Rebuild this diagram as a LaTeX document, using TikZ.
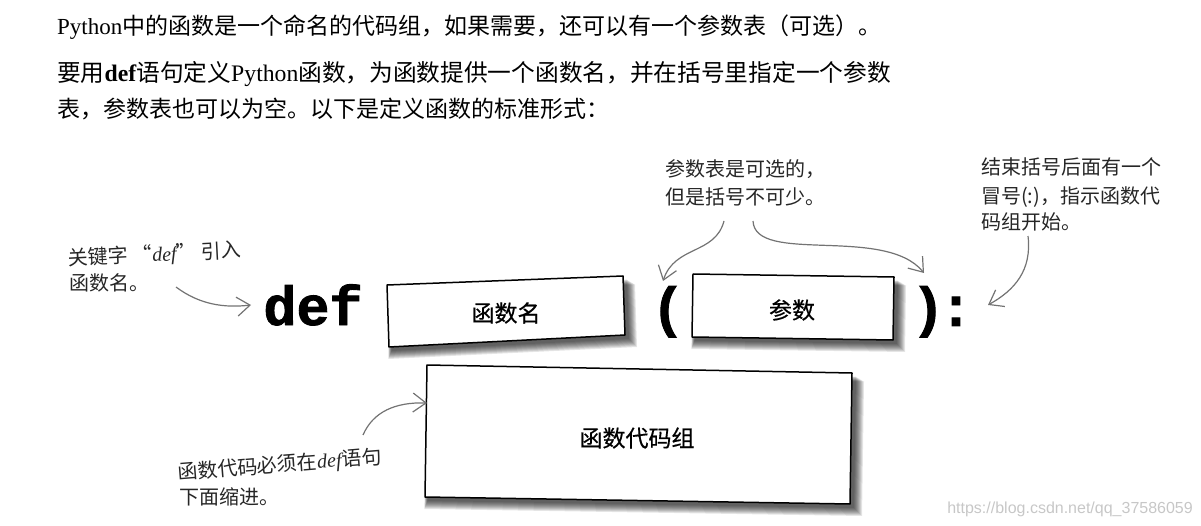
\documentclass[tikz,border=0pt]{standalone}
\usepackage{fontspec}
\setmainfont{Liberation Serif}
\setsansfont{Liberation Sans}
\newfontfamily\codefont{Liberation Mono}[BoldFeatures={FakeBold=1.6}]
\newfontfamily\cjk{Noto Sans CJK SC}
\newfontfamily\cjkbox{Noto Sans CJK SC}[FakeBold=0.5]
\usepackage{tikz}
\usetikzlibrary{arrows.meta}

\tikzset{
  bodytext/.style={anchor=base west, inner sep=0pt, font=\fontsize{23}{23}\selectfont},
  handnote/.style={anchor=base west, inner sep=0pt, font=\fontsize{20}{20}\selectfont\cjk, text=black!85},
  boxlabel/.style={inner sep=0pt, font=\fontsize{23}{23}\selectfont\cjkbox},
  codetext/.style={inner sep=0pt, anchor=base, font=\fontsize{55}{55}\selectfont\codefont\bfseries},
  sketcharrow/.style={->, >={Straight Barb[length=13pt,width=19pt]}, draw=black!55, line width=1.2pt},
  boxline/.style={draw=black, line width=1.5pt, fill=white, line join=round}
}
\newcommand{\hz}[1]{{\cjk #1}}

\begin{document}
\begin{tikzpicture}[x=1pt,y=-1pt]
  \useasboundingbox (0,0) rectangle (1201,526);
  %%% Text
  \node[bodytext] (lineone) at (57,35) {Python\hz{中的函数是一个命名的代码组，如果需要，还可以有一个参数表（可选）。}};
  \node[bodytext, font=\fontsize{23.7}{23.7}\selectfont] (linetwo) at (57,82) {\hz{要用}\textbf{def}\hz{语句定义}Python\hz{函数，为函数提供一个函数名，并在括号里指定一个参数}};
  \node[bodytext] (linethree) at (57,118) {\hz{表，参数表也可以为空。以下是定义函数的标准形式：}};
  %%% Boxes
  \foreach \s in {9,...,1}{
    \fill[black, opacity=0.1] (392-0.4*\s,288+\s) -- (626+\s,279+0.6*\s) -- (628+\s,338+\s) -- (392-0.4*\s,350+\s) -- cycle;
    \fill[black, opacity=0.1] (696-0.4*\s,278+\s) -- (897+\s,280+0.6*\s) -- (896+\s,343+\s) -- (695-0.4*\s,340+\s) -- cycle;
    \fill[black, opacity=0.1] (430-0.4*\s,368+\s) -- (855+\s,376+0.6*\s) -- (853+\s,507+\s) -- (428-0.4*\s,500+\s) -- cycle;
  }
  \draw[boxline] (387,285) -- (623,276) -- (625,335) -- (389,347) -- cycle;
  \draw[boxline] (693,274) -- (894,277) -- (893,340) -- (692,337) -- cycle;
  \draw[boxline] (427,365) -- (852,373) -- (850,504) -- (425,497) -- cycle;
  \node[boxlabel] (namelabel) at (506,313) {函数名};
  \node[boxlabel] (paramlabel) at (792,310) {参数};
  \node[boxlabel] (blocklabel) at (637,438) {函数代码组};
  %%% Code
  \node[codetext] (defword) at (313,325) {def};
  \node[codetext] (openparen) at (668,326) {(};
  \node[codetext] (closeparen) at (928,326) {)};
  \node[codetext] (colonmark) at (956,326) {:};
  %%% Notes
  \node[handnote, rotate=3] (defnote) at (68,266) {关键字 “{\rmfamily\itshape def}” 引入};
  \node[handnote] (defnoteb) at (69,291) {函数名。};
  \node[handnote] (optnote) at (665,177) {参数表是可选的，};
  \node[handnote] (optnoteb) at (665,205) {但是括号不可少。};
  \node[handnote] (colonnote) at (981,175) {结束括号后面有一个};
  \node[handnote] (colonnoteb) at (981,204) {冒号(:)，指示函数代};
  \node[handnote] (colonnotec) at (981,230) {码组开始。};
  \node[handnote, rotate=4.6] (bodynote) at (178,480) {函数代码必须在{\rmfamily\itshape def}语句};
  \node[handnote] (bodynoteb) at (179,504) {下面缩进。};
  \node[anchor=base east, inner sep=0pt, font=\fontsize{16}{16}\selectfont\sffamily, text=black!22] (webmark) at (1193,513) {https://blog.csdn.net/qq\_37586059};
  %%% Arrows
  \coordinate (defstart) at (176,287);
  \coordinate (defend) at (251,305);
  \coordinate (optstart) at (724,221);
  \coordinate (optleft) at (663,281);
  \coordinate (optmid) at (753,221);
  \coordinate (optright) at (924,273);
  \coordinate (colonstart) at (1028,236);
  \coordinate (colonend) at (988,305);
  \coordinate (bodystart) at (363,435);
  \coordinate (bodyend) at (427,403);
  \draw[sketcharrow] (defstart) .. controls (200,305) and (225,308) .. (defend);
  \draw[sketcharrow] (optstart) .. controls (715,255) and (675,245) .. (optleft);
  \draw[sketcharrow] (optmid) .. controls (755,265) and (885,225) .. (optright);
  \draw[sketcharrow] (colonstart) .. controls (1032,270) and (1015,290) .. (colonend);
  \draw[sketcharrow] (bodystart) .. controls (373,412) and (395,402) .. (bodyend);
\end{tikzpicture}
\end{document}
